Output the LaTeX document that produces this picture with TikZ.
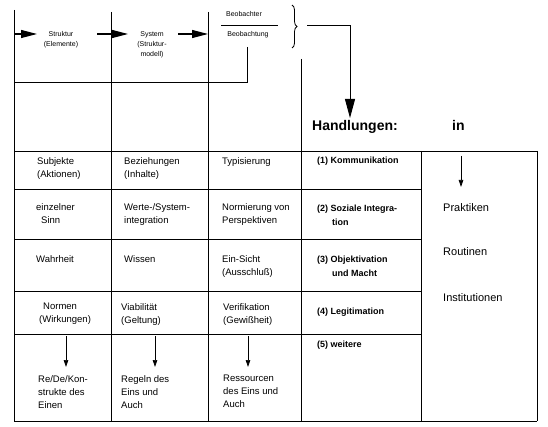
\documentclass[tikz,border=0pt]{standalone}
\usepackage{fontspec}
\setmainfont{Liberation Sans}
\usetikzlibrary{arrows.meta,decorations.pathreplacing}
\begin{document}
\begin{tikzpicture}[x=1pt,y=-1pt,
  grid/.style={line width=0.7pt},
  cell/.style={anchor=north west,inner sep=0pt,align=left,font=\fontsize{9.5}{13}\selectfont},
  boldcell/.style={anchor=north west,inner sep=0pt,align=left,font=\fontsize{9}{14}\selectfont\bfseries},
  rightcell/.style={anchor=north west,inner sep=0pt,font=\fontsize{11}{13}\selectfont},
  small/.style={inner sep=0pt,align=center,font=\fontsize{7}{9.8}\selectfont},
  bigarrow/.style={line width=1.1pt,-{Triangle[length=16pt,width=8pt]}},
  hugearrow/.style={line width=0.9pt,-{Triangle[length=19pt,width=10pt]}},
  smallarrow/.style={line width=0.7pt,-{Triangle[length=7pt,width=4.5pt]}}]
\useasboundingbox (0,0) rectangle (548,427);

% grid lines
\draw[grid] (14,10) -- (14,421);
\draw[grid] (111,12) -- (111,421);
\draw[grid] (208,12) -- (208,421);
\draw[grid] (301,59) -- (301,421);
\draw[grid] (421,151) -- (421,421);
\draw[grid] (537,151) -- (537,421);
\draw[grid] (14,151) -- (537,151);
\draw[grid] (14,189) -- (421,189);
\draw[grid] (14,239) -- (421,239);
\draw[grid] (14,291) -- (421,291);
\draw[grid] (14,334) -- (421,334);
\draw[grid] (14,421) -- (537,421);

% top flow
\coordinate (a1s) at (14,34);  \coordinate (a1e) at (37,34);
\coordinate (a2s) at (97,34);  \coordinate (a2e) at (128,34);
\coordinate (a3s) at (178,34); \coordinate (a3e) at (208,34);
\draw[bigarrow] (a1s) -- (a1e);
\draw[bigarrow] (a2s) -- (a2e);
\draw[bigarrow] (a3s) -- (a3e);

\node[small,anchor=north] (struktur) at (61,31.5) {Struktur\\(Elemente)};
\node[small,anchor=north] (system) at (152,31.5) {System\\(Struktur-\\modell)};
\node[small,anchor=north] (beobachter) at (244,11.5) {Beobachter};
\node[small,anchor=north] (beobachtung) at (248,31) {Beobachtung};
\coordinate (bl) at (221,25); \coordinate (br) at (278,25);
\draw[line width=0.8pt] (bl) -- (br);

% feedback line
\coordinate (fb1) at (247,47); \coordinate (fb2) at (247,82); \coordinate (fb3) at (14,82);
\draw[line width=0.9pt] (fb1) -- (fb2) -- (fb3);

% brace and arrow to Handlungen
\coordinate (brt) at (292,5); \coordinate (brb) at (292,48);
\draw[line width=0.8pt,decorate,decoration={brace,amplitude=5pt}] (brt) -- (brb);
\coordinate (h1) at (307,25); \coordinate (h2) at (350,25); \coordinate (h3) at (350,118);
\draw[hugearrow] (h1) -- (h2) -- (h3);

\node[anchor=base west,inner sep=0pt,font=\fontsize{14}{16}\selectfont\bfseries] (handl) at (312,131) {Handlungen:};
\node[anchor=base west,inner sep=0pt,font=\fontsize{14}{16}\selectfont\bfseries] (in) at (452,131) {in};

% row 1
\node[cell] (c11) at (37,157) {Subjekte\\(Aktionen)};
\node[cell] (c12) at (124,157) {Beziehungen\\(Inhalte)};
\node[cell] (c13) at (222,157) {Typisierung};
\node[boldcell] (c14) at (317,157) {(1) Kommunikation};
% row 2
\node[cell] (c21) at (36,203) {einzelner\\\hspace*{5pt}Sinn};
\node[cell] (c22) at (124,203) {Werte-/System-\\integration};
\node[cell] (c23) at (222,203) {Normierung von\\Perspektiven};
\node[boldcell] (c24) at (317,205) {(2) Soziale Integra-\\\hspace*{15pt}tion};
% row 3
\node[cell] (c31) at (36,255) {Wahrheit};
\node[cell] (c32) at (124,255) {Wissen};
\node[cell] (c33) at (222,255) {Ein-Sicht\\(Ausschluß)};
\node[boldcell] (c34) at (317,256) {(3) Objektivation\\\hspace*{15pt}und Macht};
% row 4
\node[cell] (c41) at (39,303) {\hspace*{4pt}Normen\\(Wirkungen)};
\node[cell] (c42) at (121,303) {Viabilität\\(Geltung)};
\node[cell] (c43) at (223,303) {Verifikation\\(Gewißheit)};
\node[boldcell] (c44) at (317,308) {(4) Legitimation};
% row 5
\node[cell] (c51) at (38,375) {Re/De/Kon-\\strukte des\\Einen};
\node[cell] (c52) at (121,375) {Regeln des\\Eins und\\Auch};
\node[cell] (c53) at (223,375) {Ressourcen\\des Eins und\\Auch};
\node[boldcell] (c54) at (317,341) {(5) weitere};

\coordinate (d1s) at (66,336);  \coordinate (d1e) at (66,367);
\coordinate (d2s) at (155,336); \coordinate (d2e) at (155,367);
\coordinate (d3s) at (248,336); \coordinate (d3e) at (248,367);
\draw[smallarrow] (d1s) -- (d1e);
\draw[smallarrow] (d2s) -- (d2e);
\draw[smallarrow] (d3s) -- (d3e);

% right column
\coordinate (rs) at (461,156); \coordinate (re) at (461,187);
\draw[smallarrow] (rs) -- (re);
\node[rightcell] (prak) at (443,203) {Praktiken};
\node[rightcell] (rout) at (443,247) {Routinen};
\node[rightcell] (inst) at (443,293) {Institutionen};
\end{tikzpicture}
\end{document}
